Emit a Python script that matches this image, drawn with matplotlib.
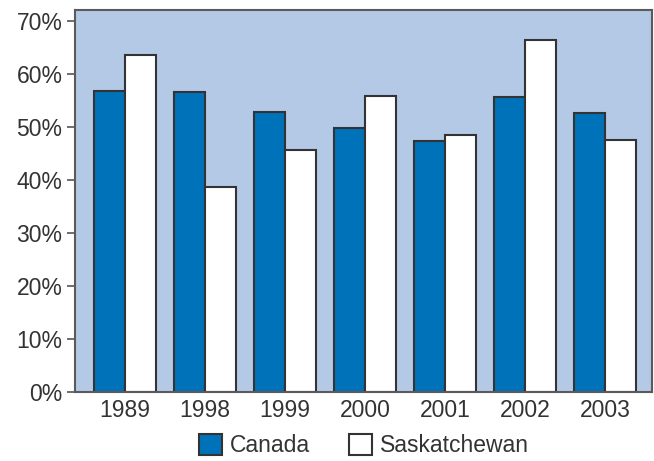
import numpy as np
import matplotlib.pyplot as plt
from matplotlib.ticker import PercentFormatter

plt.rcParams['font.family'] = ['Liberation Sans', 'DejaVu Sans']

years = ['1989', '1998', '1999', '2000', '2001', '2002', '2003']
canada = [56.8, 56.7, 52.9, 49.8, 47.3, 55.7, 52.7]
saskatchewan = [63.6, 38.8, 45.7, 55.8, 48.5, 66.5, 47.5]

blue = '#0072b9'
bg = '#b3c9e6'
edge = '#333333'
txt = '#333333'

fig = plt.figure(figsize=(6.54, 4.61), dpi=100)
ax = fig.add_axes([0.1147, 0.1497, 0.8823, 0.8283])
ax.set_facecolor(bg)

x = np.arange(len(years))
w = 0.39
ax.bar(x - w/2, canada, w, color=blue, edgecolor=edge, linewidth=1.5, label='Canada')
ax.bar(x + w/2, saskatchewan, w, color='white', edgecolor=edge, linewidth=1.5, label='Saskatchewan')

ax.set_xlim(-0.625, 6.59)
ax.set_ylim(0, 72.1)
ax.set_yticks(np.arange(0, 71, 10))
ax.yaxis.set_major_formatter(PercentFormatter(decimals=0))
ax.set_xticks(x)
ax.set_xticklabels(years)

ax.tick_params(axis='y', length=6, width=1.2, color='#555555', labelsize=16.5,
               labelcolor=txt, pad=3)
ax.tick_params(axis='x', length=0, labelsize=16.5, labelcolor=txt, pad=5)
for s in ax.spines.values():
    s.set_color('#5a5a5a')
    s.set_linewidth(1.5)

leg = fig.legend(loc='center', bbox_to_anchor=(0.556, 0.033), ncol=2, frameon=False,
                 fontsize=16.5, handlelength=1.0, handleheight=1.0, handletextpad=0.35,
                 columnspacing=1.7, borderpad=0)
for t in leg.get_texts():
    t.set_color(txt)

fig.savefig('out.png', dpi=100)
